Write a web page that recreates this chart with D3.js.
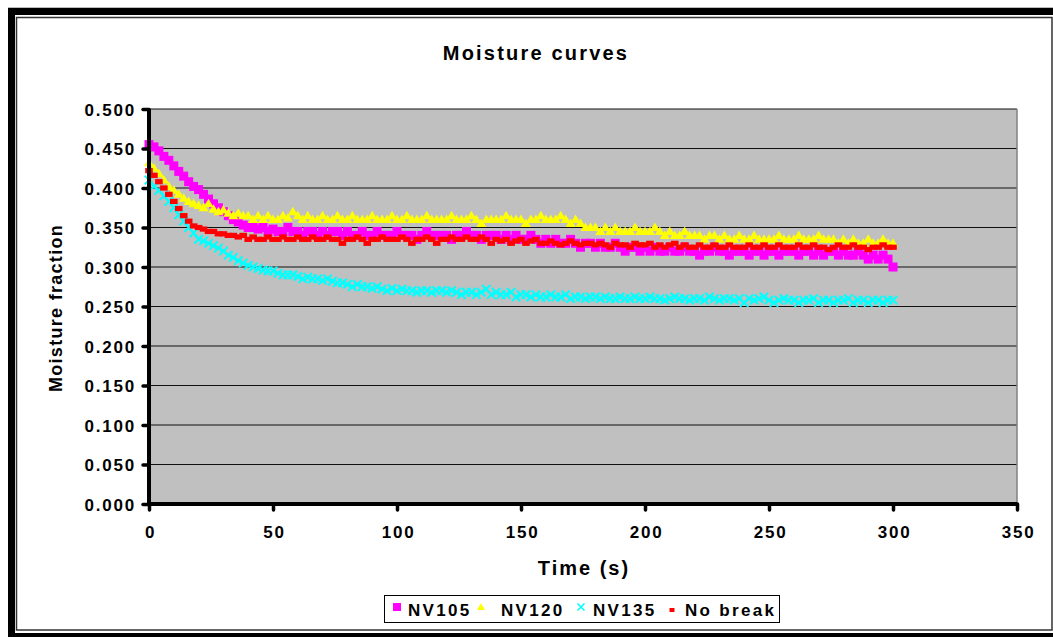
<!DOCTYPE html>
<html><head><meta charset="utf-8">
<script src="https://cdn.jsdelivr.net/npm/d3@7"></script>
<style>
body{margin:0;background:#fff;}
text{font-family:"Liberation Sans",Arial,sans-serif;font-weight:bold;fill:#000;}
</style>
</head><body><svg id="c" width="1053" height="637"></svg>
<script>
// ---- data (sampled every 2 s, t = 0..300) ----
const timeStep = 2;
const seriesNames = ["NV105", "NV120", "NV135", "No break"];
const nv105 = [
.455,.452,.447,.440,.435,.428,.421,.415,.408,.402,
.398,.392,.386,.380,.375,.370,.365,.360,.357,.353,
.350,.350,.348,.350,.345,.348,.345,.345,.350,.345,
.345,.340,.345,.345,.340,.345,.340,.345,.345,.340,
.345,.340,.340,.345,.340,.340,.345,.340,.340,.340,
.345,.340,.340,.340,.335,.340,.345,.340,.340,.340,
.340,.335,.340,.340,.345,.340,.340,.335,.340,.340,
.340,.335,.340,.335,.340,.335,.335,.340,.335,.330,
.335,.330,.335,.330,.330,.335,.330,.325,.330,.330,
.325,.330,.325,.325,.330,.325,.320,.325,.325,.320,
.325,.320,.325,.320,.320,.325,.320,.320,.325,.320,
.320,.315,.320,.320,.325,.320,.320,.315,.320,.320,
.320,.315,.320,.320,.315,.320,.320,.315,.320,.320,
.320,.315,.320,.320,.315,.320,.315,.320,.320,.315,
.320,.315,.315,.320,.315,.310,.315,.310,.315,.310,
.300];
const nv120 = [
.432,.425,.418,.410,.402,.397,.392,.387,.383,.380,
.378,.375,.380,.373,.370,.372,.368,.365,.368,.365,
.365,.360,.365,.360,.365,.360,.360,.365,.362,.370,
.365,.360,.365,.360,.360,.365,.360,.360,.365,.360,
.360,.365,.360,.360,.360,.365,.360,.360,.360,.365,
.360,.360,.365,.360,.360,.360,.365,.360,.360,.360,
.360,.365,.360,.360,.360,.365,.360,.355,.360,.360,
.360,.360,.365,.360,.360,.360,.355,.360,.360,.365,
.360,.360,.360,.365,.360,.355,.360,.355,.350,.350,
.350,.345,.350,.345,.350,.345,.345,.345,.350,.345,
.345,.345,.350,.345,.340,.345,.340,.340,.345,.340,
.340,.340,.335,.340,.340,.335,.340,.335,.335,.340,
.335,.335,.340,.335,.335,.335,.335,.340,.335,.335,
.335,.340,.335,.335,.335,.340,.335,.335,.335,.330,
.335,.330,.335,.330,.330,.335,.330,.330,.335,.330,
.330];
const nv135 = [
.410,.402,.397,.390,.383,.375,.366,.358,.350,.343,
.335,.333,.330,.327,.324,.320,.315,.312,.308,.305,
.302,.300,.298,.296,.295,.295,.292,.290,.290,.290,
.288,.285,.287,.285,.285,.283,.285,.282,.280,.280,
.278,.275,.278,.275,.275,.273,.275,.272,.270,.273,
.270,.272,.270,.270,.268,.270,.270,.268,.270,.270,
.268,.270,.268,.265,.268,.268,.265,.268,.272,.265,
.268,.265,.265,.268,.262,.265,.265,.262,.265,.262,
.262,.265,.262,.262,.265,.260,.262,.262,.260,.262,
.262,.260,.262,.260,.260,.262,.260,.260,.262,.260,
.260,.262,.260,.260,.258,.260,.262,.260,.260,.258,
.260,.260,.258,.262,.260,.258,.260,.260,.258,.260,
.255,.260,.258,.260,.262,.258,.255,.258,.260,.258,
.258,.255,.258,.258,.260,.255,.258,.258,.255,.258,
.258,.260,.255,.258,.258,.255,.258,.258,.255,.258,
.258];
const noBreak = [
.422,.416,.408,.400,.392,.383,.374,.365,.358,.352,
.350,.348,.345,.345,.342,.342,.340,.340,.338,.340,
.335,.338,.335,.335,.338,.335,.335,.338,.335,.335,
.338,.335,.335,.338,.335,.335,.338,.335,.335,.330,
.335,.335,.338,.335,.330,.335,.335,.338,.335,.335,
.335,.338,.335,.330,.335,.335,.338,.335,.330,.335,
.335,.338,.335,.335,.338,.335,.335,.338,.335,.330,
.335,.333,.335,.330,.333,.335,.330,.333,.335,.330,
.330,.333,.330,.328,.330,.333,.330,.328,.330,.330,
.328,.330,.328,.325,.330,.328,.328,.325,.330,.328,
.328,.330,.325,.328,.325,.328,.330,.325,.328,.325,
.325,.328,.325,.325,.328,.325,.325,.328,.325,.325,
.325,.328,.325,.325,.328,.325,.325,.328,.325,.325,
.325,.328,.325,.325,.328,.325,.325,.322,.325,.328,
.325,.325,.328,.325,.325,.322,.325,.325,.328,.325,
.325];
const xTicks = [0, 50, 100, 150, 200, 250, 300, 350];
const yTicks = [0, 0.05, 0.10, 0.15, 0.20, 0.25, 0.30, 0.35, 0.40, 0.45, 0.50];
const titleText = "Moisture curves";
const xTitle = "Time (s)";
const yTitle = "Moisture fraction";

// ---- setup ----
const svg = d3.select("#c");
const colors = ["#FF00FF", "#FFFF00", "#00FFFF", "#FF0000"];
const shapes = ["square", "triangle", "x", "rect"];
const allValues = [nv105, nv120, nv135, noBreak];

// frame
svg.append("line").attr("x1", 8).attr("x2", 1053).attr("y1", 7.5).attr("y2", 7.5).attr("stroke", "#bbb");
svg.append("rect").attr("x", 8).attr("y", 8).attr("width", 1045).attr("height", 629).attr("fill", "#000");
svg.append("rect").attr("x", 15).attr("y", 15).attr("width", 1038).attr("height", 618).attr("fill", "#fff");
svg.append("rect").attr("x", 16.5).attr("y", 17.5).attr("width", 1035.5).attr("height", 612.5)
  .attr("fill", "none").attr("stroke", "#333").attr("stroke-width", 1.5);

const x = d3.scaleLinear().domain([0, 350]).range([149, 1017]);
const y = d3.scaleLinear().domain([0, 0.5]).range([504, 109]);

// plot area
svg.append("rect").attr("x", x(0)).attr("y", y(0.5)).attr("width", x(350) - x(0)).attr("height", y(0) - y(0.5))
  .attr("fill", "#C0C0C0");
svg.append("g").selectAll("line").data(yTicks.filter(d => d > 0)).join("line")
  .attr("x1", x(0)).attr("x2", x(350)).attr("y1", d => y(d)).attr("y2", d => y(d))
  .attr("stroke", "#111").attr("stroke-width", 1.2);
svg.append("line").attr("x1", x(350)).attr("x2", x(350)).attr("y1", y(0.5)).attr("y2", y(0))
  .attr("stroke", "#808080").attr("stroke-width", 1.5);

// markers
function markerPath(shape) {
  switch (shape) {
    case "square": return "M-4.5,-4.5H4.5V4.5H-4.5Z";
    case "triangle": return "M0,-5L5,3.5L-5,3.5Z";
    case "x": return "M-4.2,-4.2L4.2,4.2M4.2,-4.2L-4.2,4.2";
    case "rect": return "M-3.8,-2.6H3.8V2.6H-3.8Z";
  }
}
allValues.forEach((vals, si) => {
  const pts = vals.map((v, i) => ({t: i * timeStep, v}));
  const g = svg.append("g").attr("class", "series-" + si);
  g.selectAll("path").data(pts).join("path")
    .attr("transform", d => `translate(${x(d.t)},${y(d.v)})`)
    .attr("d", markerPath(shapes[si]))
    .attr("fill", shapes[si] === "x" ? "none" : colors[si])
    .attr("stroke", shapes[si] === "x" ? colors[si] : "none")
    .attr("stroke-width", 2);
});

// axes
const yAxis = svg.append("g").attr("transform", `translate(${x(0)},0)`)
  .call(d3.axisLeft(y).tickValues(yTicks).tickFormat(d3.format(".3f")).tickSize(6).tickPadding(7));
yAxis.select(".domain").attr("stroke", "#000").attr("stroke-width", 4).attr("d", `M0,${y(0.5)}V${y(0) + 2}`);
yAxis.selectAll(".tick line").attr("stroke", "#000").attr("stroke-width", 3.5).attr("stroke-linecap", "round");
yAxis.selectAll(".tick text").style("font-size", "17px").style("letter-spacing", "1.8px")
  .attr("font-family", null).attr("dy", "0.36em");

const xAxis = svg.append("g").attr("transform", `translate(0,${y(0)})`)
  .call(d3.axisBottom(x).tickValues(xTicks).tickFormat(d3.format("d")).tickSize(6).tickPadding(16));
xAxis.select(".domain").attr("stroke", "#000").attr("stroke-width", 4).attr("d", `M${x(0) - 2},0H${x(350)}`);
xAxis.selectAll(".tick line").attr("stroke", "#000").attr("stroke-width", 3.5).attr("stroke-linecap", "round");
xAxis.selectAll(".tick text").style("font-size", "17px").style("letter-spacing", "1.8px")
  .attr("font-family", null).attr("dx", "1px");

// titles
svg.append("text").attr("x", 536).attr("y", 60).attr("text-anchor", "middle")
  .style("font-size", "20px").style("letter-spacing", "2.2px").text(titleText);
svg.append("text").attr("x", 584).attr("y", 575).attr("text-anchor", "middle")
  .style("font-size", "20px").style("letter-spacing", "2px").text(xTitle);
svg.append("text").attr("transform", "translate(62,308) rotate(-90)").attr("text-anchor", "middle")
  .style("font-size", "18px").style("letter-spacing", "1.3px").text(yTitle);

// legend
const legend = svg.append("g");
legend.append("rect").attr("x", 384.5).attr("y", 595.5).attr("width", 395).attr("height", 27)
  .attr("fill", "#fff").attr("stroke", "#000").attr("stroke-width", 1);
const legMarkerX = [397, 481, 581, 672];
const legTextX = [408, 501, 593, 685];
seriesNames.forEach((name, i) => {
  legend.append("path").attr("transform", `translate(${legMarkerX[i]},${i === 3 ? 610 : 607})`)
    .attr("d", i === 3 ? "M-2.5,-2H2.5V2H-2.5Z" : (i === 0 ? "M-4,-4H4V4H-4Z" : (i === 1 ? "M0,-4L4,3L-4,3Z" : "M-3.5,-3.5L3.5,3.5M3.5,-3.5L-3.5,3.5")))
    .attr("fill", shapes[i] === "x" ? "none" : colors[i])
    .attr("stroke", shapes[i] === "x" ? colors[i] : "none").attr("stroke-width", 1.6);
  legend.append("text").attr("x", legTextX[i]).attr("y", 616)
    .style("font-size", "17px").style("letter-spacing", "2.3px").text(name);
});
</script></body></html>
